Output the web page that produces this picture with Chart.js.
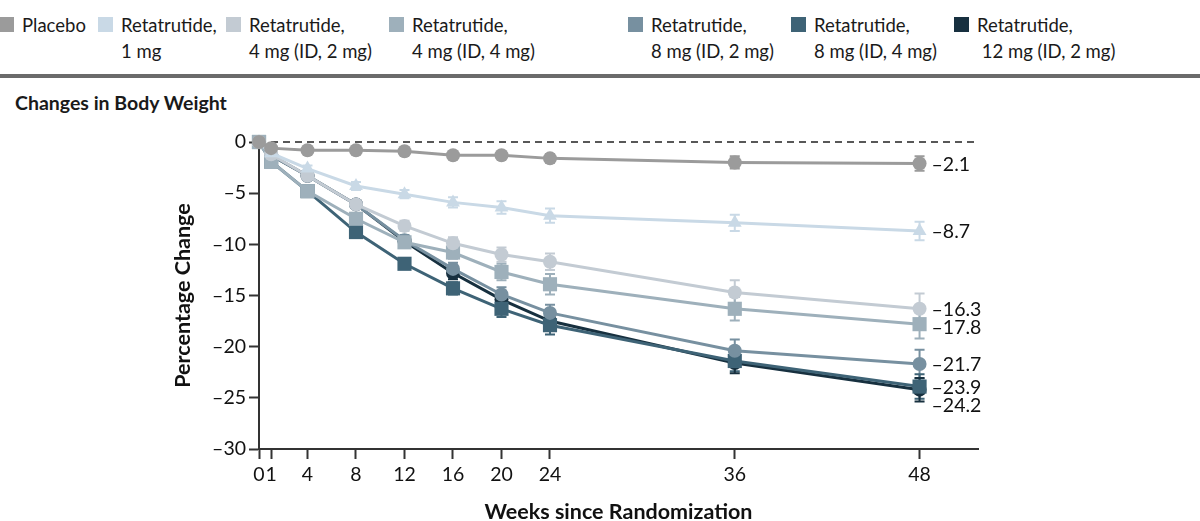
<!DOCTYPE html>
<html>
<head>
<meta charset="utf-8">
<script src="https://cdn.jsdelivr.net/npm/chart.js@4.4.1/dist/chart.umd.min.js"></script>
<style>
html, body { margin: 0; padding: 0; background: #fff; }
body { width: 1200px; height: 521px; position: relative; overflow: hidden; font-family: Lato, sans-serif; color: #1a1a1a; }
#legend .item { position: absolute; top: 12px; display: flex; }
#legend .sw { width: 15px; height: 15px; margin-top: 5px; margin-right: 8px; flex: none; }
#legend .txt { font-size: 18.5px; line-height: 26px; white-space: pre; }
#rule { position: absolute; left: 0; top: 74px; width: 1200px; height: 4px; background: #6b6b6b; }
#title { position: absolute; left: 15px; top: 91px; font-size: 19.5px; font-weight: bold; }
#wrap { position: absolute; left: 0; top: 0; width: 1200px; height: 521px; }
</style>
</head>
<body>
<div id="legend"></div>
<div id="rule"></div>
<div id="title">Changes in Body Weight</div>
<div id="wrap"><canvas id="myChart"></canvas></div>
<script>
// weeks since randomization
const weeks = [0, 1, 4, 8, 12, 16, 20, 24, 36, 48];

const seriesNames = [
    'Placebo',
    'Retatrutide,\n1 mg',
    'Retatrutide,\n4 mg (ID, 2 mg)',
    'Retatrutide,\n4 mg (ID, 4 mg)',
    'Retatrutide,\n8 mg (ID, 2 mg)',
    'Retatrutide,\n8 mg (ID, 4 mg)',
    'Retatrutide,\n 12 mg (ID, 2 mg)'
];

// percentage change per group
const placebo  = [0, -0.6, -0.8, -0.8, -0.9, -1.3, -1.3, -1.6, -2.0, -2.1];
const reta1    = [0, -1.1, -2.6, -4.3, -5.1, -5.9, -6.4, -7.2, -7.9, -8.7];
const reta4id2 = [0, -1.2, -3.3, -6.1, -8.2, -9.9, -11.0, -11.7, -14.7, -16.3];
const reta4id4 = [0, -1.9, -4.8, -7.5, -9.8, -10.8, -12.7, -13.9, -16.3, -17.8];
const reta8id2 = [0, -1.3, -3.3, -6.1, -9.6, -12.4, -14.9, -16.7, -20.4, -21.7];
const reta8id4 = [0, -1.9, -4.8, -8.8, -11.9, -14.3, -16.3, -17.9, -21.4, -23.9];
const reta12   = [0, -1.3, -3.3, -6.1, -9.7, -12.8, -15.4, -17.5, -21.6, -24.2];

// error bar half widths
const placeboErr  = [0, 0.2, 0.2, 0.2, 0.3, 0.3, 0.3, 0.4, 0.6, 0.7];
const reta1Err    = [0, 0.3, 0.3, 0.4, 0.4, 0.5, 0.6, 0.7, 0.8, 0.9];
const reta4id2Err = [0, 0.3, 0.3, 0.4, 0.5, 0.6, 0.7, 0.8, 1.2, 1.5];
const reta4id4Err = [0, 0.3, 0.3, 0.4, 0.5, 0.6, 0.8, 1.0, 1.15, 1.4];
const reta8id2Err = [0, 0.3, 0.3, 0.4, 0.5, 0.6, 0.7, 0.8, 1.1, 1.4];
const reta8id4Err = [0, 0.3, 0.3, 0.4, 0.5, 0.6, 0.8, 0.9, 1.0, 1.2];
const reta12Err   = [0, 0.3, 0.3, 0.4, 0.5, 0.6, 0.7, 0.8, 1.0, 1.15];

const endLabels = ['\u20132.1', '\u20138.7', '\u201316.3', '\u201317.8', '\u201321.7', '\u201323.9', '\u201324.2'];

const colors = ['#9b9b9b', '#c9d9e6', '#c3cbd3', '#9eb0bb', '#7790a0', '#3e6376', '#17303f'];
const shapes = ['circle', 'triangle', 'circle', 'rect', 'circle', 'rect', 'circle'];
const allValues = [placebo, reta1, reta4id2, reta4id4, reta8id2, reta8id4, reta12];
const allErrors = [placeboErr, reta1Err, reta4id2Err, reta4id4Err, reta8id2Err, reta8id4Err, reta12Err];

// the axis is stretched after week 24
function axisPos(w) {
    return w <= 24 ? w : 24 + (w - 24) * 1.27;
}

// legend (html)
const legendX = [-1, 98, 226, 389, 628, 791, 954];
const legendEl = document.getElementById('legend');
seriesNames.forEach((name, i) => {
    const item = document.createElement('div');
    item.className = 'item';
    item.style.left = legendX[i] + 'px';
    item.innerHTML = '<div class="sw" style="background:' + colors[i] + '"></div><div class="txt"></div>';
    item.querySelector('.txt').textContent = name;
    legendEl.appendChild(item);
});

const datasets = allValues.map((vals, i) => ({
    label: seriesNames[i].replace('\n', ' '),
    data: vals.map((v, j) => ({ x: axisPos(weeks[j]), y: v })),
    borderColor: colors[i],
    backgroundColor: colors[i],
    borderWidth: 3,
    pointStyle: shapes[i],
    pointRadius: shapes[i] === 'rect' ? 10 : (shapes[i] === 'triangle' ? 8 : 7),
    pointBorderWidth: 0,
    tension: 0,
    clip: false
}));

const fmt = v => (v < 0 ? '\u2013' + Math.abs(v) : String(v));

const extras = {
    id: 'extras',
    beforeDatasetsDraw(chart) {
        const c = chart.ctx, x = chart.scales.x, y = chart.scales.y;
        // dashed zero line
        c.save();
        c.strokeStyle = '#222';
        c.lineWidth = 1.5;
        c.setLineDash([7, 5]);
        c.beginPath();
        c.moveTo(x.left, y.getPixelForValue(0));
        c.lineTo(x.right, y.getPixelForValue(0));
        c.stroke();
        c.setLineDash([]);
        // error bars
        allValues.forEach((vals, i) => {
            c.strokeStyle = colors[i];
            c.lineWidth = 2;
            vals.forEach((v, j) => {
                const e = allErrors[i][j];
                if (!e) return;
                const px = x.getPixelForValue(axisPos(weeks[j]));
                const top = y.getPixelForValue(v + e);
                const bot = y.getPixelForValue(v - e);
                c.beginPath();
                c.moveTo(px, top); c.lineTo(px, bot);
                c.moveTo(px - 5, top); c.lineTo(px + 5, top);
                c.moveTo(px - 5, bot); c.lineTo(px + 5, bot);
                c.stroke();
            });
        });
        c.restore();
    },
    afterDatasetsDraw(chart) {
        const c = chart.ctx, x = chart.scales.x, y = chart.scales.y;
        const last = weeks.length - 1;
        const px = x.getPixelForValue(axisPos(weeks[last])) + 12;
        const items = allValues.map((vals, i) => ({ i, py: y.getPixelForValue(vals[last]) }))
            .sort((a, b) => a.py - b.py);
        for (let k = 1; k < items.length; k++) {
            if (items[k].py - items[k - 1].py < 18) items[k].py = items[k - 1].py + 18;
        }
        c.save();
        c.fillStyle = '#111';
        c.font = '19.5px Lato';
        c.textBaseline = 'middle';
        c.textAlign = 'left';
        items.forEach(it => c.fillText(endLabels[it.i], px, it.py + 1));
        c.restore();
    }
};

const ctx = document.getElementById('myChart');

const weightChart = new Chart(ctx, {
    type: 'line',
    data: { datasets: datasets },
    plugins: [extras],
    options: {
        responsive: true,
        maintainAspectRatio: false,
        animation: false,
        layout: { padding: { top: 142, right: 222, bottom: 0, left: 170 } },
        plugins: {
            legend: { display: false },
            tooltip: { enabled: false }
        },
        scales: {
            x: {
                type: 'linear',
                min: 0,
                max: 59.3,
                afterBuildTicks: axis => {
                    axis.ticks = weeks.map(w => ({ value: axisPos(w) }));
                },
                afterFit: axis => { axis.height = 72; },
                ticks: {
                    autoSkip: false,
                    maxRotation: 0,
                    minRotation: 0,
                    padding: 4,
                    color: '#111',
                    font: { family: 'Lato', size: 19.5 },
                    callback: (v, idx) => String(weeks[idx])
                },
                grid: { drawOnChartArea: false, tickLength: 10, tickWidth: 2, tickColor: '#333' },
                border: { color: '#333', width: 2 },
                title: {
                    display: true,
                    text: 'Weeks since Randomization',
                    color: '#111',
                    font: { family: 'Lato', size: 21.5, weight: 'bold' },
                    padding: { top: 0, bottom: -4 }
                }
            },
            y: {
                min: -30,
                max: 0,
                afterFit: axis => { axis.width = 259 - 170; },
                ticks: {
                    stepSize: 5,
                    padding: 3,
                    color: '#111',
                    font: { family: 'Lato', size: 19.5 },
                    callback: v => fmt(v)
                },
                grid: { drawOnChartArea: false, tickLength: 10, tickWidth: 2, tickColor: '#333' },
                border: { color: '#333', width: 2 },
                title: {
                    display: true,
                    text: 'Percentage Change',
                    color: '#111',
                    font: { family: 'Lato', size: 21.5, weight: 'bold' },
                    padding: { top: 0, bottom: 0 }
                }
            }
        }
    }
});
</script>
</body>
</html>
